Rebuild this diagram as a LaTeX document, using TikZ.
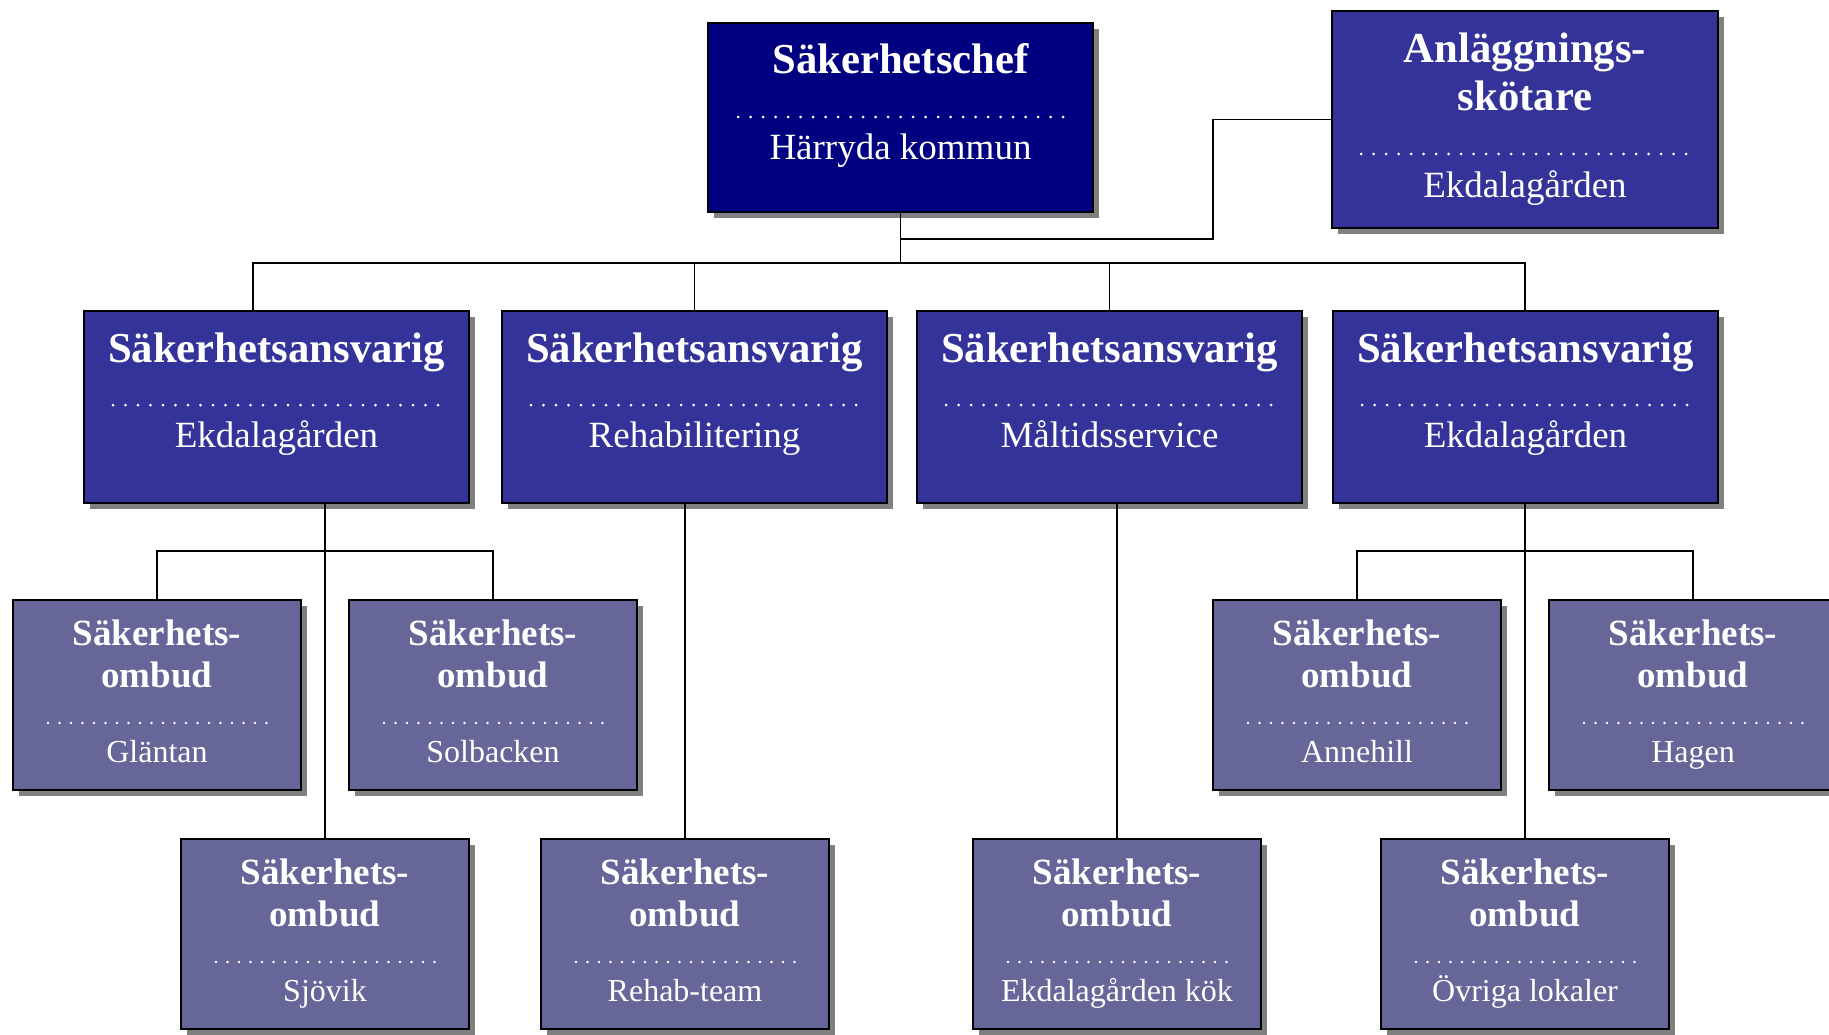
\documentclass[tikz,border=0pt]{standalone}
\usepackage{fontspec}
\setmainfont{Liberation Serif}
\usetikzlibrary{calc,shadows}
\definecolor{chefblue}{HTML}{000080}
\definecolor{midblue}{HTML}{333399}
\definecolor{lowblue}{HTML}{666699}
\definecolor{shadowgray}{HTML}{808080}
\tikzset{
 orgbox/.style={draw=black, line width=1.8pt, rectangle, inner sep=0pt, outer sep=0pt, anchor=north west,
   drop shadow={shadow xshift=5.5pt, shadow yshift=-5.5pt, fill=shadowgray, opacity=1}},
 chefbox/.style={orgbox, fill=chefblue},
 midbox/.style={orgbox, fill=midblue, minimum width=385pt, minimum height=192pt},
 lowbox/.style={orgbox, fill=lowblue, minimum width=288pt, minimum height=190pt},
 txt/.style={text=white, inner sep=0pt, anchor=base},
 bigtitle/.style={txt, font=\bfseries\fontsize{42.7}{48}\selectfont},
 bigsub/.style={txt, font=\fontsize{37}{44}\selectfont},
 smalltitle/.style={txt, font=\bfseries\fontsize{37}{42}\selectfont},
 smallsub/.style={txt, font=\fontsize{32}{38}\selectfont},
 dotline/.style={white, line width=3pt, line cap=round, dash pattern=on 0pt off 12.5pt},
 smalldots/.style={white, line width=2.8pt, line cap=round, dash pattern=on 0pt off 11.5pt},
 link/.style={black, line width=1.6pt}
}
\newcommand{\makemid}[3]{%
 \node[midbox] (#1) at (#2,311) {};
 \node[bigtitle] (#1-t) at ($(#1.north)+(0,51)$) {Säkerhetsansvarig};
 \draw[dotline] ($(#1.north west)+(29,94)$) -- ($(#1.north east)+(-28,94)$);
 \node[bigsub] (#1-s) at ($(#1.north)+(0,136)$) {#3};
}
\newcommand{\makelow}[4]{%
 \node[lowbox] (#1) at (#2,#3) {};
 \node[smalltitle] (#1-t1) at ($(#1.north)+(0,45)$) {Säkerhets-};
 \node[smalltitle] (#1-t2) at ($(#1.north)+(0,87)$) {ombud};
 \draw[smalldots] ($(#1.north west)+(35,123)$) -- ($(#1.north east)+(-34,123)$);
 \node[smallsub] (#1-s) at ($(#1.north)+(0,162)$) {#4};
}
\begin{document}
\begin{tikzpicture}[x=1pt,y=-1pt]
\clip (0,0) rectangle (1829,1034);
\fill[white] (0,0) rectangle (1829,1034);

% top level
\node[chefbox, minimum width=385pt, minimum height=189pt] (chef) at (708,23) {};
\node[bigtitle] (chef-t) at ($(chef.north)+(0,50)$) {Säkerhetschef};
\draw[dotline] ($(chef.north west)+(30,94)$) -- ($(chef.north east)+(-29,94)$);
\node[bigsub] (chef-s) at ($(chef.north)+(0,136)$) {Härryda kommun};

\node[midbox, minimum width=386pt, minimum height=217pt] (anl) at (1332,11) {};
\node[bigtitle] (anl-t1) at ($(anl.north)+(0,51)$) {Anläggnings-};
\node[bigtitle] (anl-t2) at ($(anl.north)+(0,99)$) {skötare};
\draw[dotline] ($(anl.north west)+(29,143)$) -- ($(anl.north east)+(-28,143)$);
\node[bigsub] (anl-s) at ($(anl.north)+(0,186)$) {Ekdalagården};

% middle level
\makemid{sa1}{84}{Ekdalagården}
\makemid{sa2}{502}{Rehabilitering}
\makemid{sa3}{917}{Måltidsservice}
\makemid{sa4}{1333}{Ekdalagården}

% lower levels
\makelow{glantan}{13}{600}{Gläntan}
\makelow{solbacken}{349}{600}{Solbacken}
\makelow{annehill}{1213}{600}{Annehill}
\makelow{hagen}{1549}{600}{Hagen}
\makelow{sjovik}{181}{839}{Sjövik}
\makelow{rehab}{541}{839}{Rehab-team}
\makelow{kok}{973}{839}{Ekdalagården kök}
\makelow{ovriga}{1381}{839}{Övriga lokaler}

% connectors
\coordinate (bus) at (900.5,263);
\coordinate (sa1in) at ($(sa1.north west)+(169,0)$);
\draw[link] (chef.south) -- (bus);
\draw[link] (bus) -| (sa1in);
\draw[link] (bus) -| (sa2.north);
\draw[link] (bus) -| (sa3.north);
\draw[link] (bus) -| (ovriga.north |- sa4.north);
\coordinate (aj) at (1213,239);
\draw[link] (anl.west) -| (aj) -- (aj -| bus);

\coordinate (j1) at (325,551);
\draw[link] (sjovik.north) -- (sjovik.north |- sa1.south);
\draw[link] (glantan.north) |- (j1) -| (solbacken.north);
\draw[link] (rehab.north) -- (rehab.north |- sa2.south);
\draw[link] (kok.north) -- (kok.north |- sa3.south);
\coordinate (j4) at (1525,551);
\draw[link] (ovriga.north |- sa4.south) -- (ovriga.north);
\draw[link] (annehill.north) |- (j4) -| (hagen.north);
\end{tikzpicture}
\end{document}
